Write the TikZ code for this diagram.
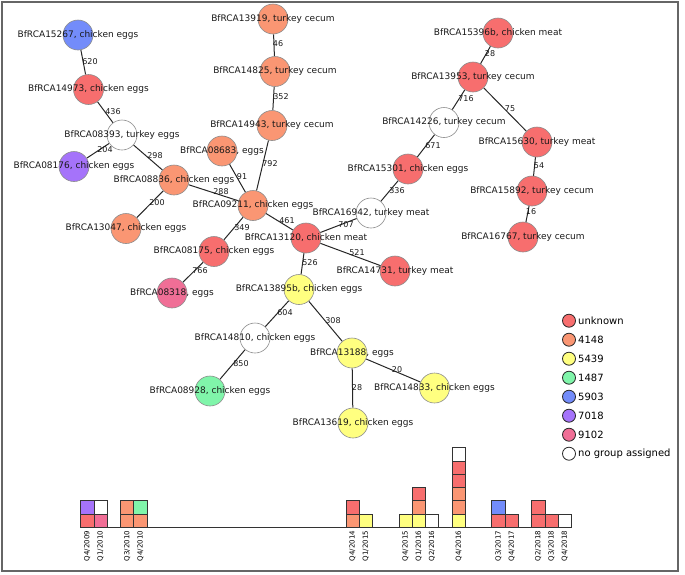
\documentclass[tikz,border=0pt]{standalone}
\usepackage{fontspec}
\setmainfont{DejaVu Sans}
\usetikzlibrary{backgrounds}
\definecolor{cUnk}{RGB}{247,110,110}
\definecolor{cA}{RGB}{250,150,115}
\definecolor{cB}{RGB}{255,255,128}
\definecolor{cC}{RGB}{128,245,170}
\definecolor{cD}{RGB}{115,140,250}
\definecolor{cE}{RGB}{165,115,250}
\definecolor{cF}{RGB}{240,110,150}
\definecolor{cN}{RGB}{255,255,255}
\tikzset{
  nd/.style={circle, minimum size=30pt, inner sep=0pt, draw=black!45, line width=0.6pt},
  lbl/.style={font=\fontsize{9}{10}\selectfont, inner sep=0pt, text=black!90},
  wt/.style={font=\fontsize{8}{9}\selectfont, inner sep=0pt, text=black!90},
  link/.style={draw=black!85, line width=1pt},
  cell/.style={draw=black!80, line width=0.6pt},
  qlab/.style={font=\fontsize{7}{8}\selectfont, rotate=90, anchor=east, inner sep=0pt},
  legc/.style={circle, minimum size=13pt, inner sep=0pt, draw=black!85, line width=0.8pt},
  legt/.style={font=\fontsize{10}{11}\selectfont, anchor=west, inner sep=0pt},
}
\newcommand\gnode[5]{\node[nd, fill=#4, label={[lbl]center:{#5}}] (#1) at (#2,-#3) {};}
\newcommand\wlab[4]{\node[wt] (#1) at (#2,-#3) {#4};}
\begin{document}
\begin{tikzpicture}[x=1pt,y=1pt]
\useasboundingbox (0,0) rectangle (685,-574);
\draw[black!60, line width=1.4pt] (2,-2) rectangle (678,-571);
% nodes
\gnode{n15267}{78}{35}{cD}{BfRCA15267, chicken eggs}
\gnode{n14973}{88.5}{89.5}{cUnk}{BfRCA14973, chicken eggs}
\gnode{n08393}{122}{135}{cN}{BfRCA08393, turkey eggs}
\gnode{n08176}{74}{166.5}{cE}{BfRCA08176, chicken eggs}
\gnode{n08836}{174}{180}{cA}{BfRCA08836, chicken eggs}
\gnode{n08683}{222}{151}{cA}{BfRCA08683, eggs}
\gnode{n13919}{273}{19}{cA}{BfRCA13919, turkey cecum}
\gnode{n14825}{275}{71.5}{cA}{BfRCA14825, turkey cecum}
\gnode{n14943}{272}{125.5}{cA}{BfRCA14943, turkey cecum}
\gnode{n09211}{253}{205.5}{cA}{BfRCA09211, chicken eggs}
\gnode{n13047}{126}{228.5}{cA}{BfRCA13047, chicken eggs}
\gnode{n08175}{214}{251.5}{cUnk}{BfRCA08175, chicken eggs}
\gnode{n08318}{172}{293}{cF}{BfRCA08318, eggs}
\gnode{n13120}{306}{238}{cUnk}{BfRCA13120, chicken meat}
\gnode{n16942}{371}{213}{cN}{BfRCA16942, turkey meat}
\gnode{n14731}{395}{271}{cUnk}{BfRCA14731, turkey meat}
\gnode{n13895b}{299}{289.5}{cB}{BfRCA13895b, chicken eggs}
\gnode{n14810}{255}{338}{cN}{BfRCA14810, chicken eggs}
\gnode{n08928}{210}{391}{cC}{BfRCA08928, chicken eggs}
\gnode{n13188}{352}{353}{cB}{BfRCA13188, eggs}
\gnode{n14833}{434.5}{388}{cB}{BfRCA14833, chicken eggs}
\gnode{n13619}{353}{423}{cB}{BfRCA13619, chicken eggs}
\gnode{n15396b}{498}{33}{cUnk}{BfRCA15396b, chicken meat}
\gnode{n13953}{473}{77}{cUnk}{BfRCA13953, turkey cecum}
\gnode{n14226}{444}{122.5}{cN}{BfRCA14226, turkey cecum}
\gnode{n15630}{537}{142}{cUnk}{BfRCA15630, turkey meat}
\gnode{n15892}{532}{191}{cUnk}{BfRCA15892, turkey cecum}
\gnode{n16767}{523}{237}{cUnk}{BfRCA16767, turkey cecum}
\gnode{n15301}{408}{169}{cUnk}{BfRCA15301, chicken eggs}
% edges
\begin{scope}[on background layer]
\draw[link] (n15267) -- (n14973);
\draw[link] (n14973) -- (n08393);
\draw[link] (n08393) -- (n08176);
\draw[link] (n08393) -- (n08836);
\draw[link] (n08836) -- (n09211);
\draw[link] (n08683) -- (n09211);
\draw[link] (n14943) -- (n09211);
\draw[link] (n13919) -- (n14825);
\draw[link] (n14825) -- (n14943);
\draw[link] (n08836) -- (n13047);
\draw[link] (n09211) -- (n08175);
\draw[link] (n08175) -- (n08318);
\draw[link] (n09211) -- (n13120);
\draw[link] (n13120) -- (n16942);
\draw[link] (n13120) -- (n14731);
\draw[link] (n13120) -- (n13895b);
\draw[link] (n16942) -- (n15301);
\draw[link] (n15301) -- (n14226);
\draw[link] (n14226) -- (n13953);
\draw[link] (n13953) -- (n15396b);
\draw[link] (n13953) -- (n15630);
\draw[link] (n15630) -- (n15892);
\draw[link] (n15892) -- (n16767);
\draw[link] (n13895b) -- (n14810);
\draw[link] (n14810) -- (n08928);
\draw[link] (n13895b) -- (n13188);
\draw[link] (n13188) -- (n14833);
\draw[link] (n13188) -- (n13619);
\end{scope}
% weights
\wlab{w1}{90}{62}{620}
\wlab{w2}{113}{112}{436}
\wlab{w3}{105}{150}{204}
\wlab{w4}{155}{156}{298}
\wlab{w5}{221}{192}{288}
\wlab{w6}{242}{177}{91}
\wlab{w7}{270}{164}{792}
\wlab{w8}{278}{44}{46}
\wlab{w9}{281}{97}{352}
\wlab{w10}{157}{203}{200}
\wlab{w11}{242}{228}{349}
\wlab{w12}{200}{271}{766}
\wlab{w13}{287}{221}{461}
\wlab{w14}{346}{225}{707}
\wlab{w15}{357}{253}{521}
\wlab{w16}{310}{263}{526}
\wlab{w17}{397}{191}{336}
\wlab{w18}{433}{146}{671}
\wlab{w19}{466}{99}{716}
\wlab{w20}{490}{54}{28}
\wlab{w21}{510}{109}{75}
\wlab{w22}{539}{166}{54}
\wlab{w23}{531}{212}{16}
\wlab{w24}{285}{313}{604}
\wlab{w25}{241}{364}{850}
\wlab{w26}{333}{321}{308}
\wlab{w27}{397}{370}{20}
\wlab{w28}{357}{388}{28}
% legend
\foreach \c/\t [count=\i from 0] in {cUnk/unknown, cA/4148, cB/5439, cC/1487, cD/5903, cE/7018, cF/9102, cN/no group assigned}{
  \node[legc, fill=\c] (lc\i) at (569,-320.7-19*\i) {};
  \node[legt] (lt\i) at (578,-320.7-19*\i) {\t};
}
% timeline
\draw[black!80, line width=0.8pt] (80.7,-527.3) coordinate (tl0) -- (571,-527.3) coordinate (tl1);
\foreach \k/\q/\cols in {0/{Q4/2009}/{cUnk,cE}, 1/{Q1/2010}/{cF,cN}, 3/{Q3/2010}/{cA,cA}, 4/{Q4/2010}/{cA,cC},
  20/{Q4/2014}/{cA,cUnk}, 21/{Q1/2015}/{cB}, 24/{Q4/2015}/{cB}, 25/{Q1/2016}/{cB,cA,cUnk}, 26/{Q2/2016}/{cN},
  28/{Q4/2016}/{cB,cA,cA,cUnk,cUnk,cN}, 31/{Q3/2017}/{cUnk,cD}, 32/{Q4/2017}/{cUnk},
  34/{Q2/2018}/{cUnk,cUnk}, 35/{Q3/2018}/{cUnk}, 36/{Q4/2018}/{cN}}{
  \foreach \c [count=\i from 0] in \cols {
    \filldraw[cell, fill=\c] (80.7+\k*13.26,-527.3+\i*13.26) rectangle (80.7+\k*13.26+13.26,-527.3+\i*13.26+13.26);
  }
  \node[qlab] (q\k) at (80.7+\k*13.26+6.63,-530.8) {\q};
}
\end{tikzpicture}
\end{document}
